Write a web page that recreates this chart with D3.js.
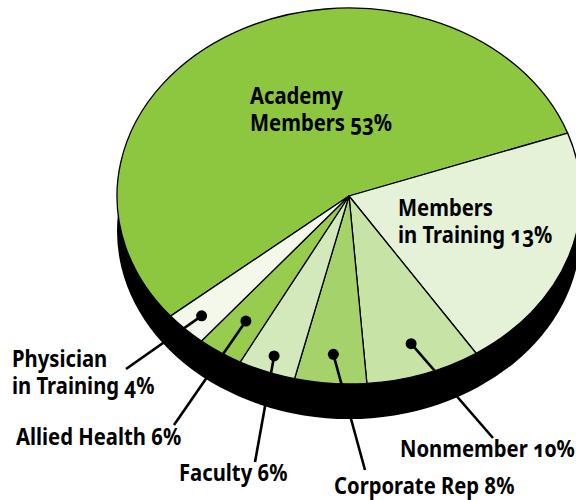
<!DOCTYPE html>
<html>
<head>
<meta charset="utf-8">
<script src="https://cdn.jsdelivr.net/npm/d3@7"></script>
<style>
  html, body { margin: 0; padding: 0; background: #fff; }
  svg text {
    font-family: "Noto Sans", "Open Sans", sans-serif;
    font-weight: 700;
    font-variant-numeric: oldstyle-nums;
    font-feature-settings: "onum" 1;
    fill: #000;
  }
</style>
</head>
<body>
<div id="chart"></div>
<script>
// Data (clockwise, starting with the big slice)
const categories = ["Academy\nMembers", "Members\nin Training", "Nonmember", "Corporate Rep",
                    "Faculty", "Allied Health", "Physician\nin Training"]
const percents = [53, 13, 10, 8, 6, 6, 4]
// slice sizes as the reference artwork draws them (the art is not to scale), % of the circle
const drawnShares = [55.6, 21.2, 8.0, 5.0, 4.0, 3.2, 3.0]

// Styles
const colors = ["#8dc63f", "#e5f2d8", "#c7e3a5", "#a6d26c", "#d3e9bb", "#97cc4e", "#f3f8ea"]

// Dimensions
const dimensions = {
  width: 576,
  height: 500,
  cx: 349,
  cy: 196,
  rx: 232,
  ry: 188,
  depth: 35,
}

// label layout: text anchor, dot radius (fraction of pie radius), leader end
const labelLayout = [
  { x: 250, y: 104 },
  { x: 398, y: 216 },
  { x: 400, y: 457, dot: 0.83, end: [493, 438] },
  { x: 334, y: 494, dot: 0.845, end: [365, 470] },
  { x: 179, y: 481, dot: 0.91, end: [255, 462] },
  { x: 16, y: 445, dot: 0.8, end: [174, 425] },
  { x: 12, y: 367, dot: 0.9, end: [126, 369] },
]
const fontSize = 23
const lineHeight = 27
const squeeze = 0.88

const dataset = categories.map((c, i) => ({
  category: c,
  percent: percents[i],
  share: drawnShares[i],
  color: colors[i],
  layout: labelLayout[i],
}))

// Draw Image
const svg = d3.select('#chart')
  .append('svg')
  .attr('width', dimensions.width)
  .attr('height', dimensions.height)

// pie angles: d3 measures clockwise from 12 o'clock, the big slice starts lower-left
const start = (230.3 / 180) * Math.PI
const pie = d3.pie()
  .sort(null)
  .value(d => d.share)
  .startAngle(start)
  .endAngle(start + 2 * Math.PI)

const arcs = pie(dataset)
const arc = d3.arc().innerRadius(0).outerRadius(dimensions.rx)
const squash = dimensions.ry / dimensions.rx

// black side of the disc
svg.append('ellipse')
  .attr('cx', dimensions.cx)
  .attr('cy', dimensions.cy + dimensions.depth)
  .attr('rx', dimensions.rx)
  .attr('ry', dimensions.ry)
  .attr('fill', '#000')

// top face
const face = svg.append('g')
  .attr('transform', `translate(${dimensions.cx}, ${dimensions.cy}) scale(1, ${squash})`)

face.selectAll('path')
  .data(arcs)
  .join('path')
  .attr('d', arc)
  .attr('fill', d => d.data.color)
  .attr('stroke', '#000')
  .attr('stroke-width', 1.3)
  .attr('stroke-linejoin', 'round')
  .attr('vector-effect', 'non-scaling-stroke')

// point on the top face for an angle and a radius fraction
const facePoint = (angle, f) => [
  dimensions.cx + dimensions.rx * f * Math.sin(angle),
  dimensions.cy - dimensions.ry * f * Math.cos(angle),
]
const midAngle = d => (d.startAngle + d.endAngle) / 2

// leaders with dots for the small slices
const outside = arcs.filter(d => d.data.layout.end)

svg.append('g')
  .selectAll('line')
  .data(outside)
  .join('line')
  .attr('x1', d => facePoint(midAngle(d), d.data.layout.dot)[0])
  .attr('y1', d => facePoint(midAngle(d), d.data.layout.dot)[1])
  .attr('x2', d => d.data.layout.end[0])
  .attr('y2', d => d.data.layout.end[1])
  .attr('stroke', '#000')
  .attr('stroke-width', 2.6)

svg.append('g')
  .selectAll('circle')
  .data(outside)
  .join('circle')
  .attr('cx', d => facePoint(midAngle(d), d.data.layout.dot)[0])
  .attr('cy', d => facePoint(midAngle(d), d.data.layout.dot)[1])
  .attr('r', 5.5)
  .attr('fill', '#000')

// labels, one text per slice, wrapped lines as tspans
const labels = svg.append('g')
  .selectAll('text')
  .data(dataset)
  .join('text')
  .attr('transform', d => `translate(${d.layout.x}, ${d.layout.y}) scale(${squeeze}, 1)`)
  .attr('font-size', fontSize)

labels.selectAll('tspan')
  .data(d => `${d.category} ${d.percent}%`.split('\n'))
  .join('tspan')
  .attr('x', 0)
  .attr('dy', (l, i) => i === 0 ? 0 : lineHeight)
  .text(l => l)
</script>
</body>
</html>
